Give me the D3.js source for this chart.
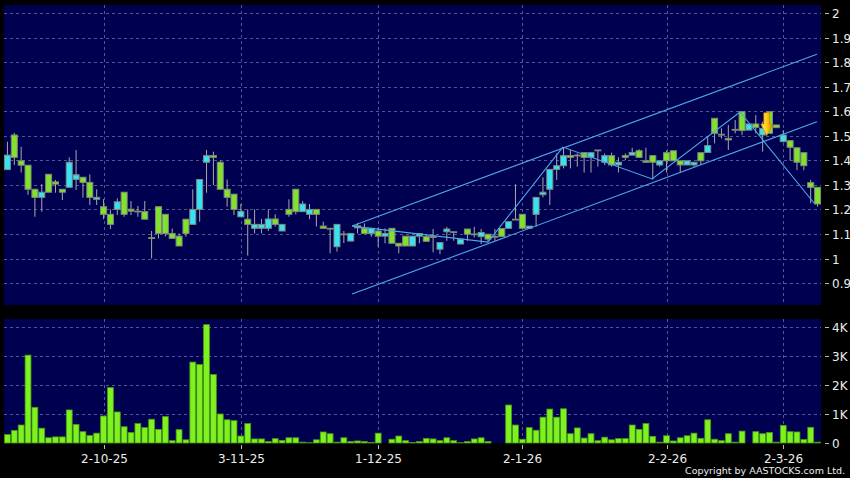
<!DOCTYPE html>
<html><head><meta charset="utf-8">
<script src="https://cdn.jsdelivr.net/npm/d3@7"></script>
<style>html,body{margin:0;padding:0;background:#000;}svg{display:block;}</style>
</head><body><svg id="chart" width="850" height="478"></svg>
<script>
// ---- DATA ----
const dates = [
"2025-09-11","2025-09-12","2025-09-15","2025-09-16","2025-09-17","2025-09-18","2025-09-19","2025-09-22","2025-09-23","2025-09-24","2025-09-25","2025-09-26","2025-09-29","2025-09-30",
"2025-10-02","2025-10-03","2025-10-06","2025-10-08","2025-10-09","2025-10-10","2025-10-13","2025-10-14","2025-10-15","2025-10-16","2025-10-17","2025-10-20","2025-10-21","2025-10-22","2025-10-23","2025-10-24","2025-10-27","2025-10-28","2025-10-30","2025-10-31",
"2025-11-03","2025-11-04","2025-11-05","2025-11-06","2025-11-07","2025-11-10","2025-11-11","2025-11-12","2025-11-13","2025-11-14","2025-11-17","2025-11-18","2025-11-19","2025-11-20","2025-11-21","2025-11-24","2025-11-25","2025-11-26","2025-11-27","2025-11-28",
"2025-12-01","2025-12-02","2025-12-03","2025-12-04","2025-12-05","2025-12-08","2025-12-09","2025-12-10","2025-12-11","2025-12-12","2025-12-15","2025-12-16","2025-12-17","2025-12-18","2025-12-19","2025-12-22","2025-12-23","2025-12-24","2025-12-29","2025-12-30","2025-12-31",
"2026-01-02","2026-01-05","2026-01-06","2026-01-07","2026-01-08","2026-01-09","2026-01-12","2026-01-13","2026-01-14","2026-01-15","2026-01-16","2026-01-19","2026-01-20","2026-01-21","2026-01-22","2026-01-23","2026-01-26","2026-01-27","2026-01-28","2026-01-29","2026-01-30",
"2026-02-02","2026-02-03","2026-02-04","2026-02-05","2026-02-06","2026-02-09","2026-02-10","2026-02-11","2026-02-12","2026-02-13","2026-02-16","2026-02-20","2026-02-23","2026-02-24","2026-02-25","2026-02-26","2026-02-27",
"2026-03-02","2026-03-03","2026-03-04","2026-03-05","2026-03-06","2026-03-09"];

const open = [1.362,1.503,1.398,1.380,1.282,1.249,1.343,1.312,1.282,1.290,1.322,1.331,1.310,1.241,1.211,1.180,1.200,1.270,1.201,1.193,
1.191,1.085,1.211,1.180,1.102,1.091,1.160,1.139,1.200,1.392,1.419,1.392,1.282,1.262,1.170,1.160,1.123,1.123,1.123,1.161,
1.112,1.200,1.282,1.191,1.180,1.200,1.132,1.123,1.048,1.100,1.071,1.133,1.123,1.102,1.112,1.091,1.123,1.062,1.091,1.051,
1.091,1.089,1.089,1.038,1.109,1.109,1.059,1.120,1.100,1.089,1.099,1.090,1.122,1.123,1.160,1.180,1.123,1.180,1.260,1.282,
1.363,1.378,1.419,1.421,1.431,1.412,1.442,1.392,1.419,1.381,1.419,1.421,1.439,1.398,1.419,1.381,1.431,1.439,1.398,1.381,
1.381,1.431,1.432,1.571,1.506,1.489,1.526,1.598,1.523,1.548,1.503,1.598,1.544,1.476,1.480,1.451,1.431,1.309,1.290];
const high = [1.476,1.512,1.455,1.380,1.282,1.303,1.343,1.320,1.282,1.412,1.442,1.331,1.343,1.282,1.242,1.200,1.245,1.270,1.234,1.214,
1.234,1.112,1.211,1.180,1.122,1.102,1.160,1.282,1.322,1.442,1.435,1.399,1.322,1.262,1.222,1.200,1.200,1.161,1.200,1.180,
1.139,1.241,1.282,1.234,1.222,1.200,1.150,1.123,1.139,1.112,1.102,1.143,1.143,1.123,1.125,1.123,1.123,1.062,1.091,1.091,
1.102,1.100,1.120,1.065,1.129,1.109,1.079,1.120,1.129,1.120,1.100,1.120,1.122,1.150,1.302,1.180,1.132,1.249,1.331,1.363,
1.428,1.454,1.442,1.428,1.431,1.431,1.442,1.428,1.431,1.412,1.428,1.451,1.445,1.451,1.419,1.398,1.440,1.439,1.398,1.398,
1.392,1.431,1.499,1.571,1.530,1.544,1.564,1.598,1.548,1.584,1.557,1.598,1.544,1.523,1.480,1.451,1.431,1.320,1.290];
const low = [1.362,1.381,1.350,1.259,1.170,1.191,1.270,1.268,1.238,1.290,1.279,1.248,1.218,1.218,1.160,1.120,1.177,1.170,1.177,1.170,
1.160,1.000,1.082,1.090,1.082,1.051,1.089,1.139,1.150,1.268,1.299,1.282,1.211,1.177,1.170,1.012,1.102,1.102,1.112,1.130,
1.112,1.170,1.180,1.191,1.160,1.130,1.123,1.021,1.028,1.063,1.071,1.102,1.102,1.089,1.048,1.062,1.062,1.021,1.051,1.051,
1.062,1.070,1.025,1.018,1.072,1.072,1.059,1.072,1.086,1.059,1.067,1.072,1.090,1.123,1.160,1.123,1.123,1.130,1.249,1.218,
1.320,1.367,1.367,1.374,1.350,1.350,1.374,1.381,1.374,1.350,1.401,1.421,1.412,1.392,1.322,1.374,1.350,1.398,1.350,1.381,
1.374,1.381,1.432,1.469,1.489,1.442,1.510,1.503,1.523,1.510,1.435,1.510,1.533,1.473,1.399,1.360,1.360,1.225,1.211];
const close = [1.421,1.412,1.380,1.282,1.249,1.270,1.270,1.303,1.270,1.392,1.341,1.310,1.249,1.249,1.180,1.139,1.231,1.180,1.193,1.193,
1.160,1.085,1.102,1.102,1.082,1.051,1.102,1.200,1.322,1.419,1.412,1.282,1.249,1.200,1.192,1.139,1.139,1.139,1.161,1.139,
1.139,1.180,1.191,1.222,1.200,1.180,1.123,1.123,1.139,1.100,1.102,1.125,1.102,1.123,1.091,1.102,1.062,1.051,1.051,1.091,
1.102,1.070,1.089,1.065,1.120,1.109,1.079,1.099,1.100,1.106,1.079,1.090,1.090,1.150,1.160,1.123,1.132,1.249,1.270,1.363,
1.378,1.419,1.412,1.421,1.412,1.431,1.442,1.419,1.381,1.392,1.412,1.432,1.412,1.392,1.392,1.398,1.398,1.398,1.381,1.398,
1.392,1.398,1.460,1.510,1.506,1.483,1.526,1.521,1.548,1.534,1.530,1.510,1.533,1.503,1.453,1.392,1.378,1.290,1.222];
// volume in thousands
const volume = [0.29,0.43,0.62,3.03,1.23,0.51,0.18,0.21,0.21,1.14,0.64,0.39,0.26,0.34,0.93,1.91,1.07,0.56,0.36,0.67,
0.53,0.82,0.47,0.91,0.08,0.46,0.11,2.79,2.71,4.08,2.36,1.00,0.80,0.77,0.24,0.67,0.14,0.14,0.05,0.15,
0.09,0.18,0.18,0.03,0.01,0.11,0.38,0.32,0.03,0.18,0.05,0.07,0.05,0.02,0.34,0,0.13,0.24,0.08,0.02,
0.05,0.16,0.14,0.08,0.18,0.08,0.01,0.05,0.14,0.18,0.05,0,0,1.31,0.62,0.13,0.53,0.44,0.89,1.17,
0.89,1.18,0.32,0.52,0.17,0.32,0.08,0.20,0.11,0.15,0.15,0.62,0.47,0.67,0.23,0.03,0.25,0.07,0.18,0.25,
0.34,0.16,0.80,0.13,0.08,0.32,0.03,0.41,0,0.39,0.32,0.36,0.03,0.61,0.39,0.38,0.12,0.54,0.03];

const priceTicks = [0.9,1,1.1,1.2,1.3,1.4,1.5,1.6,1.7,1.8,1.9,2];
const volTicks = [0,1,2,3,4];
const dateTicks = ["2025-10-02","2025-11-03","2025-12-01","2026-01-02","2026-02-02","2026-03-02"];
// trend lines: [candle index, price]
const zigzag = [[50.2,1.132],[70.0,1.067],[80.9,1.454],[93.9,1.324],[106.7,1.597],[117.6,1.222]];
const channelUpper = [[50.2,1.132],[117.9,1.832]];
const channelLower = [[50.2,0.855],[117.9,1.557]];
const signalArrow = {index:110.6, top:1.594, neck:1.548, tip:1.500};

// ---- LAYOUT ----
const W = 850, H = 478;
const L = 4, R = 821;
const pTop = 5, pBot = 305, vTop = 319, vBot = 443;
const navy = "#000050";
const gridColor = "#56568e";
const textColor = "#ececec";

const svg = d3.select("#chart");
svg.append("rect").attr("width",W).attr("height",H).attr("fill","#000");

const x = d3.scaleBand().domain(dates).range([L,R]).padding(0);
const step = x.step();
const xc = d => x(d) + step/2;
const xi = d3.scaleLinear().domain([0, dates.length-1]).range([xc(dates[0]), xc(dates[dates.length-1])]);
const yP = d3.scaleLinear().domain([0.8106, 2.0326]).range([pBot, pTop]);
const yV = d3.scaleLinear().domain([0, 4.276]).range([vBot, vTop]);

// panels
svg.append("rect").attr("x",L).attr("y",pTop).attr("width",R-L).attr("height",pBot-pTop).attr("fill",navy);
svg.append("rect").attr("x",L).attr("y",vTop).attr("width",R-L).attr("height",vBot-vTop).attr("fill",navy);

// grids
const g = svg.append("g").attr("stroke",gridColor).attr("stroke-width",1).attr("stroke-dasharray","3,3").attr("fill","none");
priceTicks.forEach(t => {
  const y = Math.round(yP(t)) + 0.5;
  g.append("line").attr("x1",L).attr("x2",R).attr("y1",y).attr("y2",y);
});
volTicks.filter(t => t > 0).forEach(t => {
  const y = Math.round(yV(t)) + 0.5;
  g.append("line").attr("x1",L).attr("x2",R).attr("y1",y).attr("y2",y);
});
dateTicks.forEach(d => {
  const xx = Math.round(xc(d)) + 0.5;
  g.append("line").attr("x1",xx).attr("x2",xx).attr("y1",pTop).attr("y2",pBot);
  g.append("line").attr("x1",xx).attr("x2",xx).attr("y1",vTop).attr("y2",vBot);
});

// candles
const idx = d3.range(dates.length);
const cg = svg.append("g");
cg.selectAll("line.wick").data(idx).join("line")
  .attr("x1", i => xc(dates[i])).attr("x2", i => xc(dates[i]))
  .attr("y1", i => yP(high[i])).attr("y2", i => yP(low[i]))
  .attr("stroke","#a8a8a8").attr("stroke-width",1);
const upC = "#36e2f6", dnC = "#80e22e", flatC = "#8c9a84";
cg.selectAll("rect.body").data(idx).join("rect")
  .attr("x", i => xc(dates[i]) - 3)
  .attr("width", 6)
  .attr("y", i => Math.min(yP(open[i]), yP(close[i])))
  .attr("height", i => Math.max(Math.abs(yP(open[i]) - yP(close[i])), 0.8))
  .attr("fill", i => close[i] > open[i] ? upC : (close[i] < open[i] ? dnC : flatC))
  .attr("stroke","#7f8a78").attr("stroke-width",1);

// volume bars
svg.append("g").selectAll("rect").data(idx.filter(i => volume[i] > 0)).join("rect")
  .attr("x", i => x(dates[i]) + 0.5)
  .attr("width", step - 1)
  .attr("y", i => yV(volume[i]))
  .attr("height", i => vBot - yV(volume[i]))
  .attr("fill","#7ef21e").attr("stroke","#4a9a14").attr("stroke-width",0.8);

// trend lines
const line = d3.line().x(p => xi(p[0])).y(p => yP(p[1]));
[zigzag, channelUpper, channelLower].forEach(pts => {
  svg.append("path").attr("d", line(pts)).attr("fill","none")
    .attr("stroke","#4ea8e8").attr("stroke-width",1.1);
});

// signal arrow
const defs = svg.append("defs");
const grad = defs.append("linearGradient").attr("id","arrowGrad").attr("x1","0").attr("x2","1").attr("y1","0").attr("y2","0");
grad.append("stop").attr("offset","0%").attr("stop-color","#ffe25a");
grad.append("stop").attr("offset","45%").attr("stop-color","#ffd21e");
grad.append("stop").attr("offset","100%").attr("stop-color","#e08800");
{
  const cx = xi(signalArrow.index);
  const yt = yP(signalArrow.top), yn = yP(signalArrow.neck), yk = yP(signalArrow.tip);
  const pts = [[cx-3,yt],[cx+3,yt],[cx+3,yn],[cx+6,yn],[cx,yk],[cx-6,yn],[cx-3,yn]];
  svg.append("polygon").attr("points", pts.map(p => p.join(",")).join(" "))
    .attr("fill","url(#arrowGrad)").attr("stroke","#c27400").attr("stroke-width",0.6);
}

// right axis labels
const font = "DejaVu Sans, Verdana, sans-serif";
const ax = svg.append("g").attr("font-family",font).attr("font-size",12).attr("fill",textColor);
priceTicks.forEach(t => {
  const y = Math.round(yP(t)) + 0.5;
  svg.append("line").attr("x1",825).attr("x2",829).attr("y1",y).attr("y2",y).attr("stroke","#bbbbbb");
  ax.append("text").attr("x",832).attr("y",y).attr("dy","0.36em").text(d3.format("~g")(t));
});
volTicks.forEach(t => {
  const y = Math.round(yV(t)) + 0.5;
  svg.append("line").attr("x1",825).attr("x2",829).attr("y1",y).attr("y2",y).attr("stroke","#bbbbbb");
  ax.append("text").attr("x",832).attr("y",y).attr("dy","0.36em").text(t === 0 ? "0" : t + "K");
});

// date labels
const fmt = d => { const [yy,mm,dd] = d.split("-"); return (+dd) + "-" + (+mm) + "-" + yy.slice(2); };
dateTicks.forEach(d => {
  const xx = Math.round(xc(d)) + 0.5;
  svg.append("line").attr("x1",xx).attr("x2",xx).attr("y1",445).attr("y2",449).attr("stroke","#bbbbbb");
  ax.append("text").attr("x",xx).attr("y",463).attr("text-anchor","middle").text(fmt(d));
});

// copyright
svg.append("text").attr("x",845).attr("y",474).attr("text-anchor","end")
  .attr("font-family",font).attr("font-size",9.5).attr("fill",textColor)
  .text("Copyright by AASTOCKS.com Ltd.");
</script>
</body></html>
